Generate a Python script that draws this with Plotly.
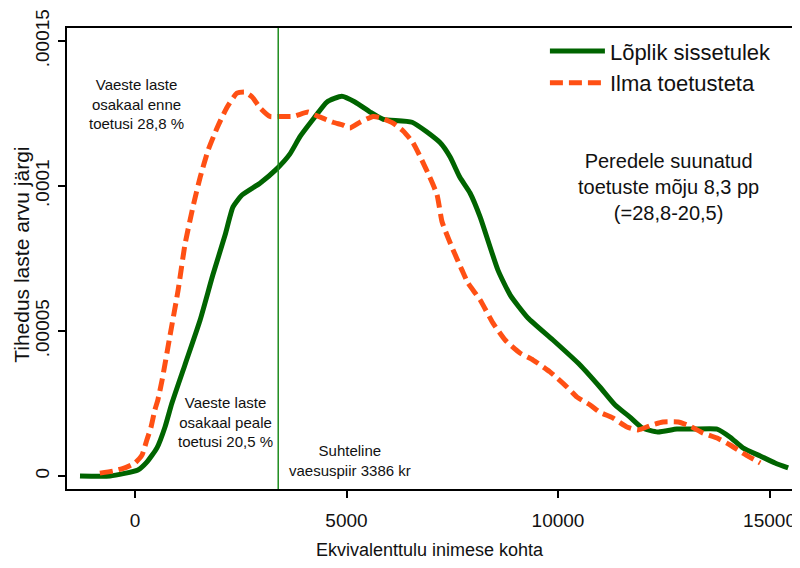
import plotly.graph_objects as go

# Lõplik sissetulek (final income)
green_x = [-1300, -590, 70, 280, 520, 710, 870, 1180, 1540, 1840, 2130, 2317, 2530, 2955, 3357, 3660,
           3900, 4210, 4540, 4890, 5200, 5560, 5870, 6550, 7210, 7450, 7680, 7920, 8160, 8580, 8870,
           9290, 9880, 10520, 10990, 11350, 11700, 11990, 12360, 12810, 13190, 13760, 14070, 14370,
           14780, 15130, 15440]
green_y = [0, 0, 2.1e-6, 4.8e-6, 9.7e-6, 1.69e-5, 2.5e-5, 3.83e-5, 5.38e-5, 6.93e-5, 8.31e-5, 9.28e-5,
           9.69e-5, 1.01e-4, 1.06e-4, 1.11e-4, 1.17e-4, 1.23e-4, 1.29e-4, 1.31e-4, 1.29e-4, 1.255e-4,
           1.23e-4, 1.22e-4, 1.15e-4, 1.10e-4, 1.03e-4, 9.76e-5, 8.93e-5, 7.1e-5, 6.24e-5, 5.45e-5,
           4.69e-5, 3.83e-5, 3.07e-5, 2.45e-5, 2.03e-5, 1.66e-5, 1.52e-5, 1.62e-5, 1.62e-5, 1.62e-5,
           1.34e-5, 9.7e-6, 6.9e-6, 4.5e-6, 2.8e-6]

# Ilma toetusteta (without benefits)
orange_x = [-830, -520, -240, 0, 165, 280, 380, 470, 540, 640, 830, 1020, 1180, 1370, 1540, 1730, 1940,
            2170, 2410, 2600, 2770, 2955, 3190, 3430, 3735, 4090, 4255, 4680, 4920, 5080, 5320, 5630,
            5840, 6100, 6340, 6570, 6780, 6970, 7140, 7260, 7490, 7730, 7870, 8160, 8460, 8750, 9100,
            9410, 9810, 10210, 10450, 10760, 10990, 11300, 11630, 11890, 12220, 12480, 12840, 13120,
            13430, 13760, 14070, 14370, 14780]
orange_y = [1.0e-6, 1.7e-6, 2.8e-6, 4.5e-6, 7.2e-6, 1.24e-5, 1.69e-5, 2.28e-5, 2.62e-5, 3.3e-5, 4.86e-5,
            6.41e-5, 7.97e-5, 9.28e-5, 1.03e-4, 1.124e-4, 1.2e-4, 1.27e-4, 1.32e-4, 1.324e-4, 1.307e-4,
            1.27e-4, 1.24e-4, 1.24e-4, 1.24e-4, 1.255e-4, 1.245e-4, 1.22e-4, 1.21e-4, 1.2e-4, 1.22e-4,
            1.24e-4, 1.234e-4, 1.217e-4, 1.19e-4, 1.15e-4, 1.09e-4, 1.03e-4, 9.7e-5, 8.76e-5, 7.9e-5,
            7.1e-5, 6.66e-5, 6.07e-5, 5.28e-5, 4.69e-5, 4.24e-5, 4.0e-5, 3.59e-5, 3.07e-5, 2.72e-5,
            2.45e-5, 2.2e-5, 2.0e-5, 1.69e-5, 1.59e-5, 1.76e-5, 1.86e-5, 1.86e-5, 1.72e-5, 1.48e-5,
            1.31e-5, 1.07e-5, 7.9e-6, 4.5e-6]

poverty_line = 3386
x_ticks = [0, 5000, 10000, 15000]
y_ticks = [0, 0.00005, 0.0001, 0.00015]
y_ticklabels = ["0", ".00005", ".0001", ".00015"]

FONT = "Liberation Sans, Arial, sans-serif"
GREEN = "#006400"
ORANGE = "#FF5014"
TXT = "#111111"

fig = go.Figure()
fig.add_trace(go.Scatter(x=green_x, y=green_y, mode="lines", name="Lõplik sissetulek",
                         line=dict(color=GREEN, width=5, shape="spline", smoothing=0.5)))
fig.add_trace(go.Scatter(x=orange_x, y=orange_y, mode="lines", name="Ilma toetusteta",
                         line=dict(color=ORANGE, width=5, dash="13px,6px", shape="spline", smoothing=0.5)))

fig.add_vline(x=poverty_line, line=dict(color="#1E8C1E", width=1.5))

ann_font = dict(family=FONT, size=15, color=TXT)
fig.add_annotation(x=47, y=1.283e-4, text="Vaeste laste<br>osakaal enne<br>toetusi 28,8 %",
                   showarrow=False, font=ann_font, align="center")
fig.add_annotation(x=2150, y=1.86e-5, text="Vaeste laste<br>osakaal peale<br>toetusi 20,5 %",
                   showarrow=False, font=ann_font, align="center")
fig.add_annotation(x=5080, y=5.5e-6, text="Suhteline<br>vaesuspiir 3386 kr",
                   showarrow=False, font=ann_font, align="center")
fig.add_annotation(x=12600, y=9.97e-5, text="Peredele suunatud<br>toetuste mõju 8,3 pp<br>(=28,8-20,5)",
                   showarrow=False, font=dict(family=FONT, size=20, color=TXT), align="center")

# axis titles
fig.add_annotation(xref="paper", yref="paper", x=-0.0614, y=0.508, xanchor="center", yanchor="middle",
                   text="Tihedus laste arvu järgi", textangle=-90, showarrow=False,
                   font=dict(family=FONT, size=21, color=TXT))
fig.add_annotation(xref="paper", yref="paper", x=0.495, y=-0.132, xanchor="center", yanchor="middle",
                   text="Ekvivalenttulu inimese kohta", showarrow=False,
                   font=dict(family=FONT, size=18, color=TXT))

# the page body adds an 8px offset, so the figure is sized/placed to compensate
fig.update_layout(
    width=792, height=560,
    margin=dict(l=59, r=0, t=20, b=79),
    paper_bgcolor="white", plot_bgcolor="white",
    font=dict(family=FONT, color=TXT),
    showlegend=True,
    legend=dict(x=0.652, y=0.995, xanchor="left", yanchor="top", bgcolor="rgba(0,0,0,0)",
                font=dict(family=FONT, size=22, color=TXT), itemwidth=55, tracegroupgap=4),
)
fig.update_xaxes(range=[-1607, 15720], tickvals=x_ticks, ticktext=[str(v) for v in x_ticks],
                 automargin=False,
                 showgrid=False, zeroline=False, showline=True, linecolor="black", linewidth=2,
                 mirror=True, ticks="outside", ticklen=7, tickcolor="black", tickwidth=1.5,
                 ticklabelstandoff=6,
                 tickfont=dict(family=FONT, size=19, color=TXT))
fig.update_yaxes(range=[-4.48e-6, 0.0001545], tickvals=y_ticks, ticktext=y_ticklabels, tickangle=-90,
                 automargin=False,
                 showgrid=False, zeroline=False, showline=True, linecolor="black", linewidth=2,
                 ticks="outside", ticklen=7, tickcolor="black", tickwidth=1.5,
                 ticklabelstandoff=1,
                 tickfont=dict(family=FONT, size=19, color=TXT))

fig.write_html("out.html")
